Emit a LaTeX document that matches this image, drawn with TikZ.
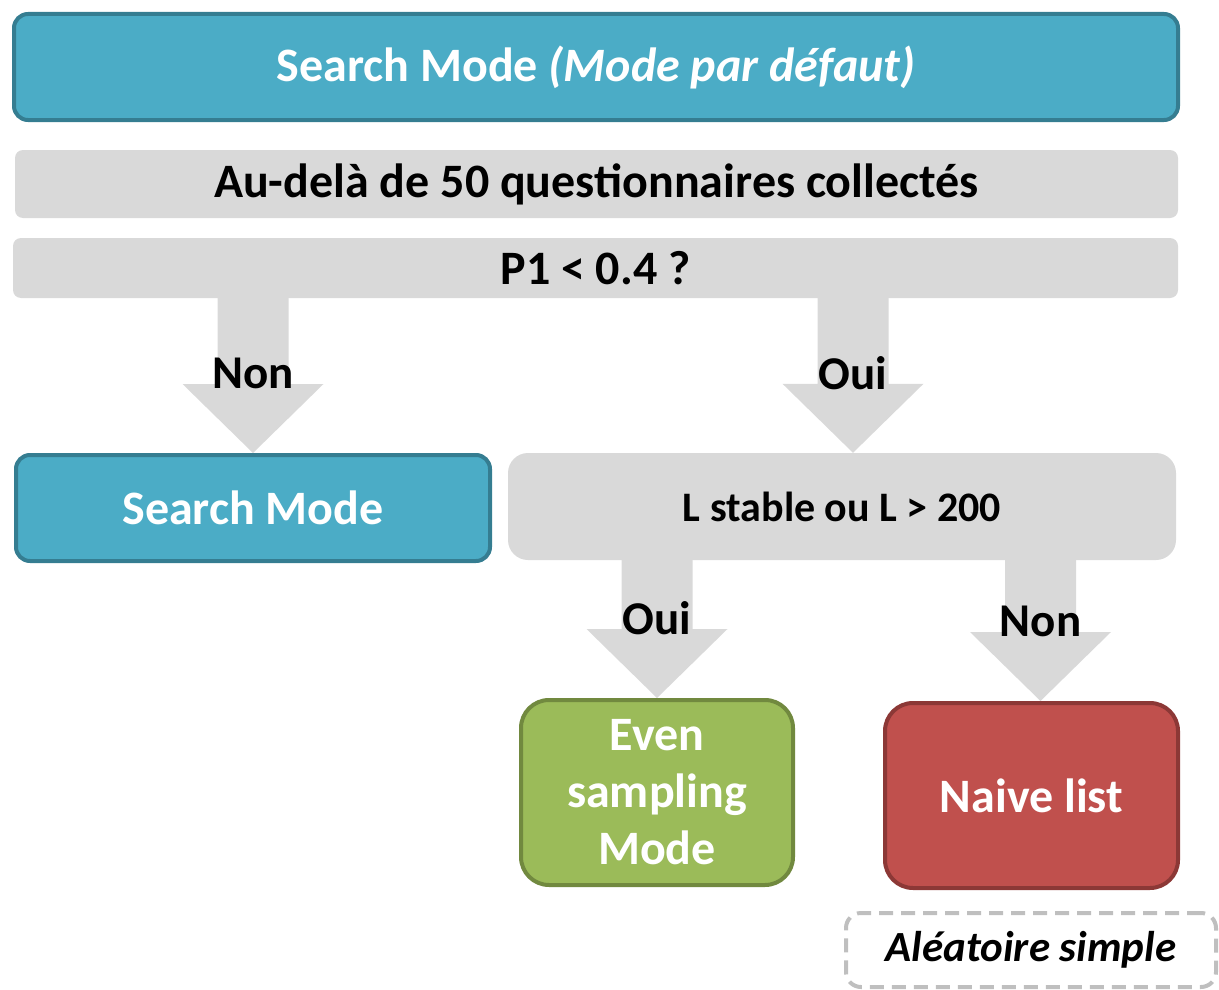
\documentclass[tikz,border=0pt]{standalone}
\usepackage{fontspec}
\setmainfont{Carlito}
\usepackage{tikz}
\usetikzlibrary{calc, positioning}
\definecolor{modeblue}{HTML}{4BACC6}
\definecolor{modeblueline}{HTML}{357D91}
\definecolor{condgray}{HTML}{D9D9D9}
\definecolor{evengreen}{HTML}{9BBB59}
\definecolor{evengreenline}{HTML}{71893F}
\definecolor{naivered}{HTML}{C0504D}
\definecolor{naiveredline}{HTML}{8C3836}
\definecolor{notegray}{HTML}{BFBFBF}

% block arrow from the bottom of #2 down to the top of #3 (shifted by #1), label #4
\newcommand{\blockarrow}[4][0]{%
  \fill[condgray] let \p2=($(#3.north)+(#1,0)$), \p1=(#2.south -| \p2) in
    (\x1-35.5pt,\y1) -- (\x1-35.5pt,\y2+69pt) -- (\x1-70.5pt,\y2+69pt) -- (\p2)
    -- (\x1+70.5pt,\y2+69pt) -- (\x1+35.5pt,\y2+69pt) -- (\x1+35.5pt,\y1) -- cycle;
  \node[arrowlabel] at ($(#3.north)+(#1,-80)$) {#4};
}

\begin{document}
\begin{tikzpicture}[
    x=1pt, y=-1pt,
    modebox/.style={rectangle, draw=modeblueline, fill=modeblue, line width=4pt,
                 rounded corners=14pt, text=white, font=\bfseries\fontsize{48}{56}\selectfont},
    condbar/.style={rectangle, fill=condgray, rounded corners=8pt,
                 font=\bfseries\fontsize{48}{56}\selectfont},
    arrowlabel/.style={font=\bfseries\fontsize{47}{56}\selectfont},
    leafbox/.style={rectangle, line width=4pt, rounded corners=28pt, text=white, align=center,
                 font=\bfseries\fontsize{48}{57}\selectfont}
]
    \useasboundingbox (0,0) rectangle (1219,990);

    \node[modebox, minimum width=1164pt, minimum height=106pt] (top) at (596,67)
        {Search Mode \textit{(Mode par défaut)}};
    \node[condbar, minimum width=1163pt, minimum height=68pt] (after50) at (596.5,184)
        {Au-delà de 50 questionnaires collectés};
    \node[condbar, minimum width=1165pt, minimum height=60pt] (p1test) at (595.5,268)
        {P1 < 0.4 ?};

    \node[modebox, minimum width=474pt, minimum height=106pt] (search) at (253,508)
        {Search Mode};
    \node[condbar, rounded corners=20pt, minimum width=668pt, minimum height=107pt,
          font=\bfseries\fontsize{42}{50}\selectfont] (stable) at (842,506.5)
        {L stable ou L > 200};

    \node[leafbox, draw=evengreenline, fill=evengreen, minimum width=272pt,
          minimum height=185pt] (even) at (657,792.5)
        {Even\\sampling\\Mode};
    \node[leafbox, draw=naiveredline, fill=naivered, minimum width=293pt,
          minimum height=185pt] (naive) at (1031.5,795.5)
        {Naive list};

    \node[rectangle, draw=notegray, line width=4pt, dash pattern=on 14pt off 8pt,
          rounded corners=15pt, minimum width=370pt, minimum height=74pt,
          font=\bfseries\itshape\fontsize{43}{50}\selectfont] (random) at (1031,950)
        {Aléatoire simple};

    \blockarrow{p1test}{search}{Non}
    \blockarrow[11]{p1test}{stable}{Oui}
    \blockarrow{stable}{even}{Oui}
    \blockarrow[9]{stable}{naive}{Non}
\end{tikzpicture}
\end{document}
